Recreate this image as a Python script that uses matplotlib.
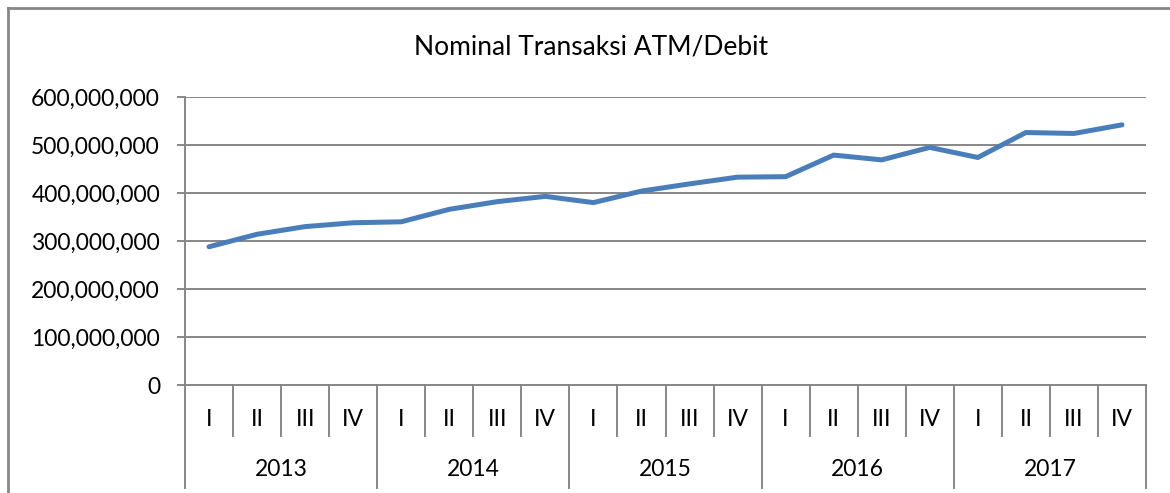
import matplotlib
matplotlib.use("Agg")
import matplotlib.pyplot as plt
from matplotlib.lines import Line2D
from matplotlib.ticker import FuncFormatter
import matplotlib.transforms as mtransforms

# quarterly nominal values
years = ["2013", "2014", "2015", "2016", "2017"]
quarters = ["I", "II", "III", "IV"]
values = [
    288e6, 314e6, 330e6, 338e6,
    340e6, 366e6, 382e6, 393e6,
    380e6, 404e6, 419e6, 433e6,
    434e6, 479e6, 469e6, 495e6,
    474e6, 526e6, 524e6, 542e6,
]
title = "Nominal Transaksi ATM/Debit"

plt.rcParams["font.family"] = ["Lato", "DejaVu Sans"]

W, H = 1170, 493
fig = plt.figure(figsize=(W / 100, H / 100), dpi=100)
ax = fig.add_axes([185 / W, 1 - 385 / H, (1146 - 185) / W, (385 - 97) / H])

grey = "#878787"
fs = 16.5
n = len(values)
x = list(range(n))
ax.plot(x, values, color="#4A7EBB", lw=3.6, solid_capstyle="round",
        solid_joinstyle="round", zorder=3)

ax.set_xlim(-0.5, n - 0.5)
ax.set_ylim(0, 600e6)
ax.set_yticks([i * 100e6 for i in range(7)])
ax.yaxis.set_major_formatter(FuncFormatter(lambda v, p: f"{int(v):,}"))
ax.grid(axis="y", color=grey, lw=1.4)
ax.set_axisbelow(True)
for s in ["top", "right"]:
    ax.spines[s].set_visible(False)
ax.spines["left"].set_color(grey)
ax.spines["left"].set_linewidth(1.4)
ax.spines["bottom"].set_color(grey)
ax.spines["bottom"].set_linewidth(1.4)
ax.tick_params(axis="y", length=6, width=1.4, color=grey, labelsize=fs,
               pad=12, labelcolor="black")
ax.set_xticks([])
ax.tick_params(axis="x", length=0)

# two-level category axis
trans = mtransforms.blended_transform_factory(ax.transData, ax.transAxes)
q_bottom = -(436 - 385) / 288
y_bottom = -(488 - 385) / 288
for k in range(n + 1):
    xb = k - 0.5
    yb = y_bottom if k % 4 == 0 else q_bottom
    ax.add_line(Line2D([xb, xb], [0, yb], transform=trans, color=grey,
                       lw=1.4, clip_on=False))
for i in range(n):
    ax.text(i, -(420 - 385) / 288, quarters[i % 4], transform=trans,
            ha="center", va="center", fontsize=fs)
for j, yr in enumerate(years):
    ax.text(j * 4 + 1.5, -(470 - 385) / 288, yr, transform=trans,
            ha="center", va="center", fontsize=fs)

fig.text(591 / W, 1 - 47 / H, title, ha="center", va="center", fontsize=19)

# chart frame (cropped at right and bottom)
fig.add_artist(Line2D([8 / W, 8 / W], [1 - 8 / H, 0], color=grey, lw=2))
fig.add_artist(Line2D([8 / W, 1], [1 - 8 / H, 1 - 8 / H], color=grey, lw=2))

fig.savefig("out.png", dpi=100)
